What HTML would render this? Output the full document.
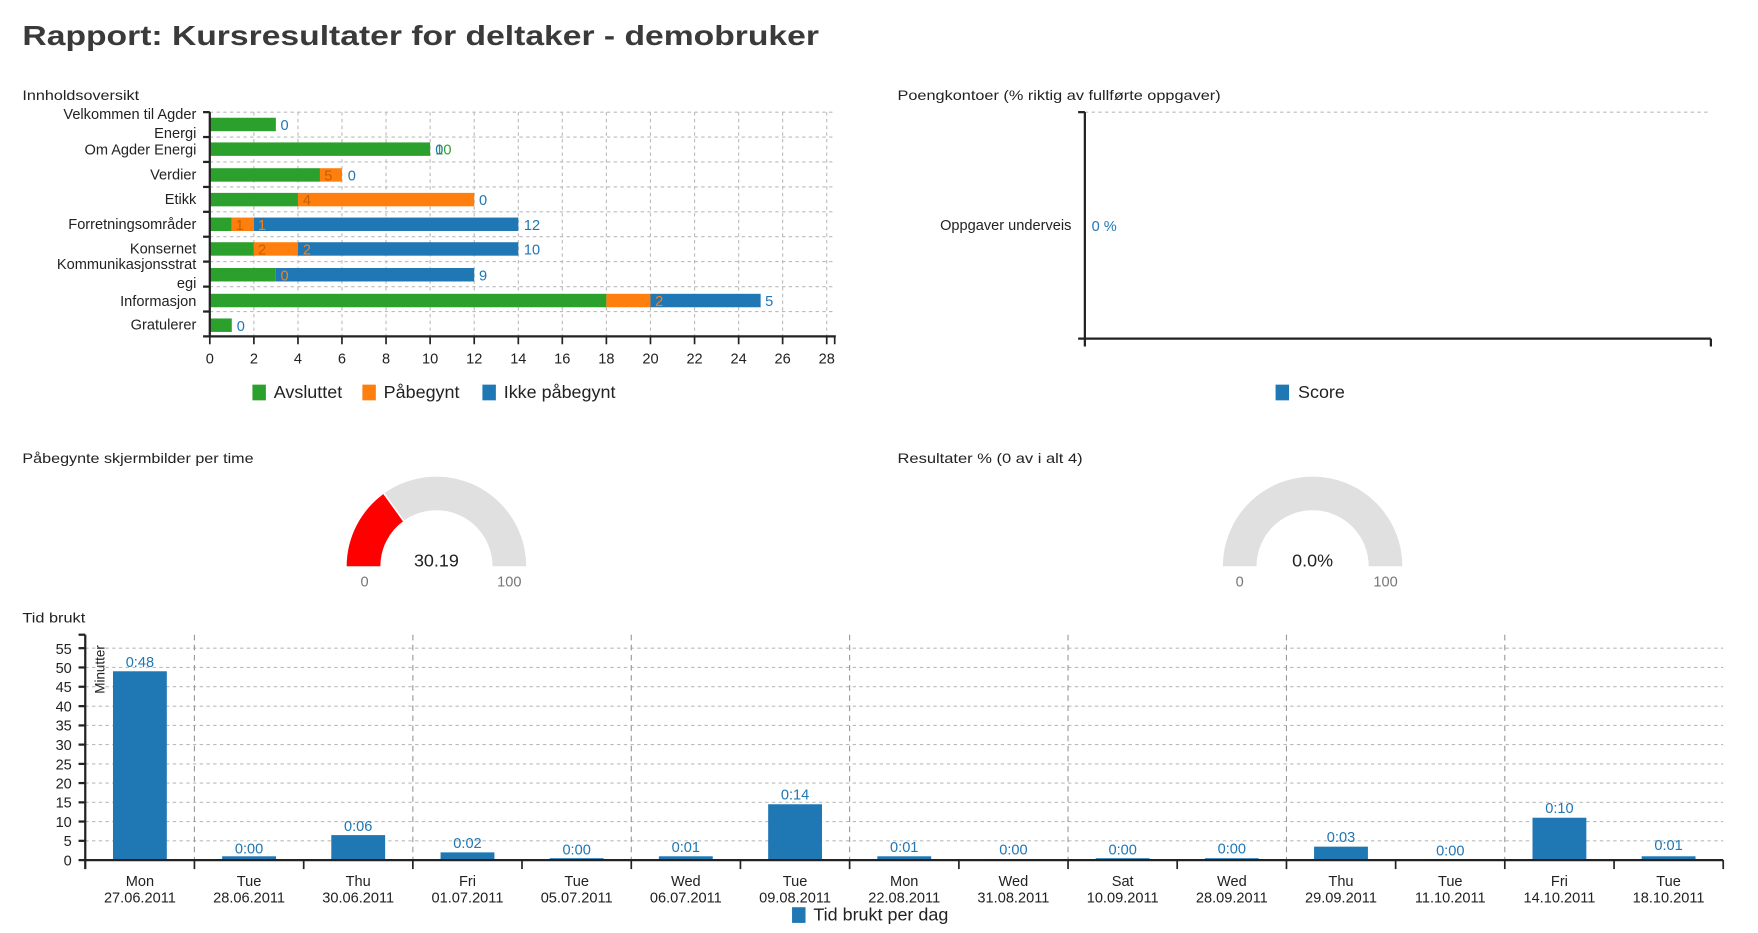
<!DOCTYPE html>
<html><head><meta charset="utf-8"><style>
html,body{margin:0;padding:0;background:#fff;}
svg{display:block;}
text{font-family:"Liberation Sans","DejaVu Sans",sans-serif;}
</style></head><body>
<svg width="1758" height="933" viewBox="0 0 1567 832" preserveAspectRatio="none" xmlns="http://www.w3.org/2000/svg">
<text x="20" y="40" font-size="25" font-weight="bold" fill="#3a3a3a" textLength="710" lengthAdjust="spacingAndGlyphs">Rapport: Kursresultater for deltaker - demobruker</text>

<text x="20" y="89" font-size="12.5" fill="#222" textLength="104" lengthAdjust="spacingAndGlyphs">Innholdsoversikt</text>
<g stroke="#bbb" stroke-dasharray="3,3" stroke-width="1">
<line x1="187" y1="100" x2="745" y2="100"/><line x1="187" y1="122.2" x2="745" y2="122.2"/><line x1="187" y1="144.4" x2="745" y2="144.4"/><line x1="187" y1="166.7" x2="745" y2="166.7"/><line x1="187" y1="188.9" x2="745" y2="188.9"/><line x1="187" y1="211.1" x2="745" y2="211.1"/><line x1="187" y1="233.3" x2="745" y2="233.3"/><line x1="187" y1="255.6" x2="745" y2="255.6"/><line x1="187" y1="277.8" x2="745" y2="277.8"/>
<line x1="226.3" y1="100" x2="226.3" y2="300"/><line x1="265.6" y1="100" x2="265.6" y2="300"/><line x1="304.8" y1="100" x2="304.8" y2="300"/><line x1="344.1" y1="100" x2="344.1" y2="300"/><line x1="383.4" y1="100" x2="383.4" y2="300"/><line x1="422.7" y1="100" x2="422.7" y2="300"/><line x1="462" y1="100" x2="462" y2="300"/><line x1="501.2" y1="100" x2="501.2" y2="300"/><line x1="540.5" y1="100" x2="540.5" y2="300"/><line x1="579.8" y1="100" x2="579.8" y2="300"/><line x1="619.1" y1="100" x2="619.1" y2="300"/><line x1="658.4" y1="100" x2="658.4" y2="300"/><line x1="697.6" y1="100" x2="697.6" y2="300"/><line x1="736.9" y1="100" x2="736.9" y2="300"/>
</g>
<g>
<rect x="187" y="105" width="58.9" height="12" fill="#2ca02c"/>
<rect x="187" y="127" width="196.4" height="12" fill="#2ca02c"/>
<rect x="187" y="150" width="98.2" height="12" fill="#2ca02c"/><rect x="285.2" y="150" width="19.6" height="12" fill="#ff7f0e"/>
<rect x="187" y="172" width="78.6" height="12" fill="#2ca02c"/><rect x="265.6" y="172" width="157.1" height="12" fill="#ff7f0e"/>
<rect x="187" y="194" width="19.6" height="12" fill="#2ca02c"/><rect x="206.6" y="194" width="19.7" height="12" fill="#ff7f0e"/><rect x="226.3" y="194" width="235.7" height="12" fill="#1f77b4"/>
<rect x="187" y="216" width="39.3" height="12" fill="#2ca02c"/><rect x="226.3" y="216" width="39.3" height="12" fill="#ff7f0e"/><rect x="265.6" y="216" width="196.4" height="12" fill="#1f77b4"/>
<rect x="187" y="239" width="58.9" height="12" fill="#2ca02c"/><rect x="245.9" y="239" width="176.8" height="12" fill="#1f77b4"/>
<rect x="187" y="262" width="353.5" height="12" fill="#2ca02c"/><rect x="540.5" y="262" width="39.3" height="12" fill="#ff7f0e"/><rect x="579.8" y="262" width="98.2" height="12" fill="#1f77b4"/>
<rect x="187" y="284" width="19.6" height="12" fill="#2ca02c"/>
</g>
<g font-size="13">
<text x="250" y="116" fill="#1f77b4">0</text>
<text x="388" y="138" fill="#2ca02c">10</text><text x="388" y="138" fill="#1f77b4">0</text>
<text x="289" y="161" fill="#c65f00">5</text><text x="310" y="161" fill="#1f77b4">0</text>
<text x="270" y="183" fill="#c65f00">4</text><text x="427" y="183" fill="#1f77b4">0</text>
<text x="210" y="205" fill="#c65f00">1</text><text x="230" y="205" fill="#ff7f0e">1</text><text x="467" y="205" fill="#1f77b4">12</text>
<text x="230" y="227" fill="#c65f00">2</text><text x="270" y="227" fill="#ff7f0e">2</text><text x="467" y="227" fill="#1f77b4">10</text>
<text x="250" y="250" fill="#ff7f0e">0</text><text x="427" y="250" fill="#1f77b4">9</text>
<text x="544" y="273" fill="#ff7f0e">18</text><text x="584" y="273" fill="#ff7f0e">2</text><text x="682" y="273" fill="#1f77b4">5</text>
<text x="211" y="295" fill="#1f77b4">0</text>
</g>
<g font-size="13" fill="#222" text-anchor="end">
<text x="175" y="106">Velkommen til Agder</text><text x="175" y="123">Energi</text>
<text x="175" y="138">Om Agder Energi</text>
<text x="175" y="160">Verdier</text>
<text x="175" y="182">Etikk</text>
<text x="175" y="204">Forretningsområder</text>
<text x="175" y="226">Konsernet</text>
<text x="175" y="240">Kommunikasjonsstrat</text><text x="175" y="257">egi</text>
<text x="175" y="273">Informasjon</text>
<text x="175" y="294">Gratulerer</text>
</g>
<g stroke="#222" stroke-width="2">
<line x1="187" y1="100" x2="187" y2="301"/><line x1="181" y1="300" x2="745" y2="300"/>
<line x1="181" y1="100" x2="187" y2="100"/><line x1="181" y1="122.2" x2="187" y2="122.2"/><line x1="181" y1="144.4" x2="187" y2="144.4"/><line x1="181" y1="166.7" x2="187" y2="166.7"/><line x1="181" y1="188.9" x2="187" y2="188.9"/><line x1="181" y1="211.1" x2="187" y2="211.1"/><line x1="181" y1="233.3" x2="187" y2="233.3"/><line x1="181" y1="255.6" x2="187" y2="255.6"/><line x1="181" y1="277.8" x2="187" y2="277.8"/>
</g>
<g stroke="#222" stroke-width="1.5">
<line x1="187" y1="300" x2="187" y2="307"/><line x1="226.3" y1="300" x2="226.3" y2="307"/><line x1="265.6" y1="300" x2="265.6" y2="307"/><line x1="304.8" y1="300" x2="304.8" y2="307"/><line x1="344.1" y1="300" x2="344.1" y2="307"/><line x1="383.4" y1="300" x2="383.4" y2="307"/><line x1="422.7" y1="300" x2="422.7" y2="307"/><line x1="462" y1="300" x2="462" y2="307"/><line x1="501.2" y1="300" x2="501.2" y2="307"/><line x1="540.5" y1="300" x2="540.5" y2="307"/><line x1="579.8" y1="300" x2="579.8" y2="307"/><line x1="619.1" y1="300" x2="619.1" y2="307"/><line x1="658.4" y1="300" x2="658.4" y2="307"/><line x1="697.6" y1="300" x2="697.6" y2="307"/><line x1="736.9" y1="300" x2="736.9" y2="307"/><line x1="744" y1="300" x2="744" y2="307"/>
</g>
<g font-size="13" fill="#222" text-anchor="middle">
<text x="187" y="324">0</text><text x="226.3" y="324">2</text><text x="265.6" y="324">4</text><text x="304.8" y="324">6</text><text x="344.1" y="324">8</text><text x="383.4" y="324">10</text><text x="422.7" y="324">12</text><text x="462" y="324">14</text><text x="501.2" y="324">16</text><text x="540.5" y="324">18</text><text x="579.8" y="324">20</text><text x="619.1" y="324">22</text><text x="658.4" y="324">24</text><text x="697.6" y="324">26</text><text x="736.9" y="324">28</text>
</g>
<g font-size="16" fill="#222">
<rect x="225" y="343" width="12" height="14" fill="#2ca02c"/><text x="244" y="355">Avsluttet</text>
<rect x="323" y="343" width="12" height="14" fill="#ff7f0e"/><text x="342" y="355">Påbegynt</text>
<rect x="430" y="343" width="12" height="14" fill="#1f77b4"/><text x="449" y="355">Ikke påbegynt</text>
</g>

<text x="800" y="89" font-size="12.5" fill="#222" textLength="288" lengthAdjust="spacingAndGlyphs">Poengkontoer (% riktig av fullførte oppgaver)</text>
<line x1="967" y1="100" x2="1525" y2="100" stroke="#bbb" stroke-dasharray="3,3"/>
<g stroke="#222" stroke-width="2">
<line x1="967" y1="100" x2="967" y2="309"/><line x1="961" y1="100" x2="967" y2="100"/><line x1="961" y1="302" x2="1525" y2="302"/><line x1="1525" y1="302" x2="1525" y2="309"/>
</g>
<text x="955" y="205" font-size="13" fill="#222" text-anchor="end">Oppgaver underveis</text>
<text x="973" y="206" font-size="13" fill="#1f77b4">0 %</text>
<rect x="1137" y="343" width="12" height="14" fill="#1f77b4"/><text x="1157" y="355" font-size="16" fill="#222">Score</text>

<text x="20" y="413" font-size="12.5" fill="#222" textLength="206" lengthAdjust="spacingAndGlyphs">Påbegynte skjermbilder per time</text>
<path d="M309 505 A80 80 0 0 1 469 505 L439 505 A50 50 0 0 0 339 505 Z" fill="#e0e0e0"/>
<path d="M309 505 A80 80 0 0 1 342.3 440.2 L359.8 464.5 A50 50 0 0 0 339 505 Z" fill="#ff0000"/>
<line x1="342.3" y1="440.2" x2="359.8" y2="464.5" stroke="#fff" stroke-width="1.5"/>
<text x="389" y="505" font-size="16" fill="#222" text-anchor="middle">30.19</text>
<text x="325" y="523" font-size="13" fill="#777" text-anchor="middle">0</text>
<text x="454" y="523" font-size="13" fill="#777" text-anchor="middle">100</text>

<text x="800" y="413" font-size="12.5" fill="#222" textLength="165" lengthAdjust="spacingAndGlyphs">Resultater % (0 av i alt 4)</text>
<path d="M1090 505 A80 80 0 0 1 1250 505 L1220 505 A50 50 0 0 0 1120 505 Z" fill="#e0e0e0"/>
<text x="1170" y="505" font-size="16" fill="#222" text-anchor="middle">0.0%</text>
<text x="1105" y="523" font-size="13" fill="#777" text-anchor="middle">0</text>
<text x="1235" y="523" font-size="13" fill="#777" text-anchor="middle">100</text>

<text x="20" y="555" font-size="12.5" fill="#222" textLength="56" lengthAdjust="spacingAndGlyphs">Tid brukt</text>
<g stroke="#bbb" stroke-dasharray="3,3">
<line x1="76" y1="749.8" x2="1536" y2="749.8"/><line x1="76" y1="732.6" x2="1536" y2="732.6"/><line x1="76" y1="715.5" x2="1536" y2="715.5"/><line x1="76" y1="698.3" x2="1536" y2="698.3"/><line x1="76" y1="681.2" x2="1536" y2="681.2"/><line x1="76" y1="664" x2="1536" y2="664"/><line x1="76" y1="646.9" x2="1536" y2="646.9"/><line x1="76" y1="629.7" x2="1536" y2="629.7"/><line x1="76" y1="612.4" x2="1536" y2="612.4"/><line x1="76" y1="595.2" x2="1536" y2="595.2"/><line x1="76" y1="578" x2="1536" y2="578"/>
</g>
<g stroke="#999" stroke-dasharray="5,4">
<line x1="173.3" y1="566" x2="173.3" y2="767"/><line x1="368" y1="566" x2="368" y2="767"/><line x1="562.7" y1="566" x2="562.7" y2="767"/><line x1="757.3" y1="566" x2="757.3" y2="767"/><line x1="952" y1="566" x2="952" y2="767"/><line x1="1146.7" y1="566" x2="1146.7" y2="767"/><line x1="1341.3" y1="566" x2="1341.3" y2="767"/>
</g>
<g fill="#1f77b4">
<rect x="100.7" y="598.6" width="48" height="168.4"/>
<rect x="198" y="763.6" width="48" height="3.4"/>
<rect x="295.3" y="744.7" width="48" height="22.3"/>
<rect x="392.7" y="760.1" width="48" height="6.9"/>
<rect x="490" y="765.3" width="48" height="1.7"/>
<rect x="587.3" y="763.6" width="48" height="3.4"/>
<rect x="684.7" y="717.2" width="48" height="49.8"/>
<rect x="782" y="763.6" width="48" height="3.4"/>
<rect x="879.3" y="766" width="48" height="1"/>
<rect x="976.7" y="765.3" width="48" height="1.7"/>
<rect x="1074" y="765.3" width="48" height="1.7"/>
<rect x="1171.3" y="755" width="48" height="12"/>
<rect x="1268.7" y="766" width="48" height="1"/>
<rect x="1366" y="729.2" width="48" height="37.8"/>
<rect x="1463.3" y="763.6" width="48" height="3.4"/>
</g>
<g font-size="13" fill="#1f77b4" text-anchor="middle">
<text x="124.7" y="595">0:48</text><text x="222" y="761">0:00</text><text x="319.3" y="741">0:06</text><text x="416.7" y="756">0:02</text><text x="514" y="762">0:00</text><text x="611.3" y="760">0:01</text><text x="708.7" y="713">0:14</text><text x="806" y="760">0:01</text><text x="903.3" y="762">0:00</text><text x="1000.7" y="762">0:00</text><text x="1098" y="761">0:00</text><text x="1195.3" y="751">0:03</text><text x="1292.7" y="763">0:00</text><text x="1390" y="725">0:10</text><text x="1487.3" y="758">0:01</text>
</g>
<g stroke="#222" stroke-width="2">
<line x1="76" y1="566" x2="76" y2="775"/><line x1="70" y1="566" x2="76" y2="566"/><line x1="70" y1="767" x2="1536" y2="767"/>
<line x1="70" y1="749.8" x2="76" y2="749.8"/><line x1="70" y1="732.6" x2="76" y2="732.6"/><line x1="70" y1="715.5" x2="76" y2="715.5"/><line x1="70" y1="698.3" x2="76" y2="698.3"/><line x1="70" y1="681.2" x2="76" y2="681.2"/><line x1="70" y1="664" x2="76" y2="664"/><line x1="70" y1="646.9" x2="76" y2="646.9"/><line x1="70" y1="629.7" x2="76" y2="629.7"/><line x1="70" y1="612.4" x2="76" y2="612.4"/><line x1="70" y1="595.2" x2="76" y2="595.2"/><line x1="70" y1="578" x2="76" y2="578"/>
</g>
<g stroke="#222" stroke-width="1.5">
<line x1="173.3" y1="767" x2="173.3" y2="775"/><line x1="270.7" y1="767" x2="270.7" y2="775"/><line x1="368" y1="767" x2="368" y2="775"/><line x1="465.3" y1="767" x2="465.3" y2="775"/><line x1="562.7" y1="767" x2="562.7" y2="775"/><line x1="660" y1="767" x2="660" y2="775"/><line x1="757.3" y1="767" x2="757.3" y2="775"/><line x1="854.7" y1="767" x2="854.7" y2="775"/><line x1="952" y1="767" x2="952" y2="775"/><line x1="1049.3" y1="767" x2="1049.3" y2="775"/><line x1="1146.7" y1="767" x2="1146.7" y2="775"/><line x1="1244" y1="767" x2="1244" y2="775"/><line x1="1341.3" y1="767" x2="1341.3" y2="775"/><line x1="1438.7" y1="767" x2="1438.7" y2="775"/><line x1="1536" y1="767" x2="1536" y2="775"/>
</g>
<g font-size="13" fill="#222" text-anchor="end">
<text x="64" y="772">0</text><text x="64" y="754.5">5</text><text x="64" y="737.5">10</text><text x="64" y="720">15</text><text x="64" y="703">20</text><text x="64" y="686">25</text><text x="64" y="669">30</text><text x="64" y="651.5">35</text><text x="64" y="634.5">40</text><text x="64" y="617">45</text><text x="64" y="600">50</text><text x="64" y="583">55</text>
</g>
<text transform="translate(93,597) rotate(-90)" font-size="12" fill="#222" text-anchor="middle">Minutter</text>
<g font-size="13" fill="#222" text-anchor="middle">
<text x="124.7" y="790">Mon</text><text x="124.7" y="805">27.06.2011</text>
<text x="222" y="790">Tue</text><text x="222" y="805">28.06.2011</text>
<text x="319.3" y="790">Thu</text><text x="319.3" y="805">30.06.2011</text>
<text x="416.7" y="790">Fri</text><text x="416.7" y="805">01.07.2011</text>
<text x="514" y="790">Tue</text><text x="514" y="805">05.07.2011</text>
<text x="611.3" y="790">Wed</text><text x="611.3" y="805">06.07.2011</text>
<text x="708.7" y="790">Tue</text><text x="708.7" y="805">09.08.2011</text>
<text x="806" y="790">Mon</text><text x="806" y="805">22.08.2011</text>
<text x="903.3" y="790">Wed</text><text x="903.3" y="805">31.08.2011</text>
<text x="1000.7" y="790">Sat</text><text x="1000.7" y="805">10.09.2011</text>
<text x="1098" y="790">Wed</text><text x="1098" y="805">28.09.2011</text>
<text x="1195.3" y="790">Thu</text><text x="1195.3" y="805">29.09.2011</text>
<text x="1292.7" y="790">Tue</text><text x="1292.7" y="805">11.10.2011</text>
<text x="1390" y="790">Fri</text><text x="1390" y="805">14.10.2011</text>
<text x="1487.3" y="790">Tue</text><text x="1487.3" y="805">18.10.2011</text>
</g>
<rect x="706" y="809" width="12" height="14" fill="#1f77b4"/>
<text x="725" y="821" font-size="16" fill="#222">Tid brukt per dag</text>
</svg>
</body></html>
